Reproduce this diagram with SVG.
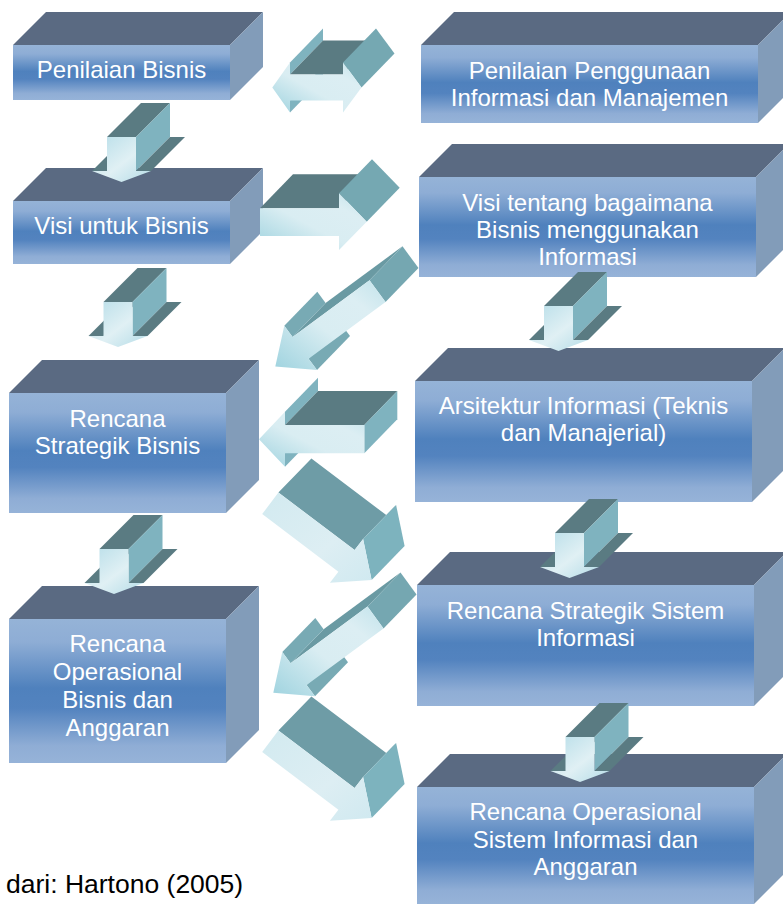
<svg xmlns="http://www.w3.org/2000/svg" width="783" height="904" viewBox="0 0 783 904">
<defs>
<linearGradient id="gFront" x1="0" y1="0" x2="0" y2="1">
<stop offset="0" stop-color="#95b3d7"/>
<stop offset="0.16" stop-color="#8eadd5"/>
<stop offset="0.48" stop-color="#4f81bd"/>
<stop offset="0.62" stop-color="#5383bf"/>
<stop offset="0.88" stop-color="#8fadd5"/>
<stop offset="1" stop-color="#96b3d8"/>
</linearGradient>
<linearGradient id="gDown" x1="0" y1="0" x2="1" y2="1">
<stop offset="0" stop-color="#b6dde8"/>
<stop offset="0.55" stop-color="#e0f0f4"/>
<stop offset="1" stop-color="#b4dce7"/>
</linearGradient>
<linearGradient id="gArr" x1="0" y1="1" x2="1" y2="0">
<stop offset="0" stop-color="#9fd3df"/>
<stop offset="0.45" stop-color="#d9edf2"/>
<stop offset="0.75" stop-color="#dceef3"/>
<stop offset="1" stop-color="#c2e3eb"/>
</linearGradient>
<linearGradient id="gArrL" x1="0" y1="0" x2="1" y2="1">
<stop offset="0" stop-color="#d2eaf0"/>
<stop offset="0.6" stop-color="#ddeef3"/>
<stop offset="1" stop-color="#d0e9f0"/>
</linearGradient>
<g id="dArrow">
<polygon class="adark" points="-15,34 0,34 34,0 19,0"/>
<polygon class="adark" points="0,0 29,0 63,-34 34,-34"/>
<polygon class="alight" points="29,0 63,-34 63,0 29,34"/>
<polygon class="adark" points="29,34 44,34 78,0 63,0"/>
<polygon fill="url(#gDown)" points="0,0 29,0 29,34 44,34 14.5,45 -15,34 0,34"/>
</g>
<g id="arrDR">
<polygon fill="#6e9ca6" points="278.4,492.5 354.6,550.1 363.1,539 396.1,505 387.6,516.1 311.4,458.5"/>
<polygon fill="#7db3be" points="363.1,539 371.6,579.9 404.6,545.9 396.1,505"/>
<polygon fill="url(#gArrL)" points="278.4,492.5 354.6,550.1 363.1,539 371.6,579.9 329.9,582.8 338.4,571.7 262.2,514.1"/>
</g>
<g id="arrDL">
<polygon fill="#78aab4" points="308.6,358.7 317,370 350,336 341.6,324.7"/>
<polygon fill="#6a9aa3" points="292.6,337 369.5,280.3 402.5,246.3 325.6,303"/>
<polygon fill="#78aab4" points="284.3,325.7 292.6,337 325.6,303 317.3,291.7"/>
<polygon fill="#75a7b1" points="369.5,280.3 385.5,302.1 418.5,268.1 402.5,246.3"/>
<polygon fill="url(#gArr)" points="369.5,280.3 292.6,337 284.3,325.7 275.3,366.5 317,370 308.6,358.7 385.5,302.1"/>
</g>
</defs>
<style>
.top{fill:#5a6a82}
.side{fill:#829cb9}
.front{fill:url(#gFront)}
.lbl{font-family:"Liberation Sans",Arial,sans-serif;font-size:24px;fill:#ffffff;text-anchor:middle}
.adark{fill:#5a7b82}
.amid{fill:#75a8b2}
.alight{fill:#7fb3bf}
</style>
<rect width="783" height="904" fill="#ffffff"/>

<g id="n1">
<polygon class="top" points="13,45 230,45 263,12 46,12"/>
<polygon class="side" points="230,45 263,12 263,67 230,100"/>
<rect class="front" x="13" y="45" width="217" height="55"/>
<text class="lbl" x="121.5" y="78">Penilaian Bisnis</text>
</g>
<g id="n2">
<polygon class="top" points="421,45 758,45 791,12 454,12"/>
<polygon class="side" points="758,45 791,12 791,90 758,123"/>
<rect class="front" x="421" y="45" width="337" height="78"/>
<text class="lbl" x="589.5" y="79">Penilaian Penggunaan</text>
<text class="lbl" x="589.5" y="106">Informasi dan Manajemen</text>
</g>
<g id="n3">
<polygon class="top" points="13,201 230,201 263,168 46,168"/>
<polygon class="side" points="230,201 263,168 263,231 230,264"/>
<rect class="front" x="13" y="201" width="217" height="63"/>
<text class="lbl" x="121.5" y="234">Visi untuk Bisnis</text>
</g>
<g id="n4">
<polygon class="top" points="419,177 756,177 789,144 452,144"/>
<polygon class="side" points="756,177 789,144 789,244 756,277"/>
<rect class="front" x="419" y="177" width="337" height="100"/>
<text class="lbl" x="587.5" y="211">Visi tentang bagaimana</text>
<text class="lbl" x="587.5" y="238">Bisnis menggunakan</text>
<text class="lbl" x="587.5" y="265">Informasi</text>
</g>
<g id="n5">
<polygon class="top" points="9,393 226,393 259,360 42,360"/>
<polygon class="side" points="226,393 259,360 259,480 226,513"/>
<rect class="front" x="9" y="393" width="217" height="120"/>
<text class="lbl" x="117.5" y="427">Rencana</text>
<text class="lbl" x="117.5" y="454">Strategik Bisnis</text>
</g>
<g id="n6">
<polygon class="top" points="415,381 752,381 785,348 448,348"/>
<polygon class="side" points="752,381 785,348 785,469 752,502"/>
<rect class="front" x="415" y="381" width="337" height="121"/>
<text class="lbl" x="583.5" y="414">Arsitektur Informasi (Teknis</text>
<text class="lbl" x="583.5" y="441">dan Manajerial)</text>
</g>
<g id="n7">
<polygon class="top" points="9,619 226,619 259,586 42,586"/>
<polygon class="side" points="226,619 259,586 259,730 226,763"/>
<rect class="front" x="9" y="619" width="217" height="144"/>
<text class="lbl" x="117.5" y="652">Rencana</text>
<text class="lbl" x="117.5" y="680">Operasional</text>
<text class="lbl" x="117.5" y="708">Bisnis dan</text>
<text class="lbl" x="117.5" y="736">Anggaran</text>
</g>
<g id="n8">
<polygon class="top" points="417,585 754,585 787,552 450,552"/>
<polygon class="side" points="754,585 787,552 787,673 754,706"/>
<rect class="front" x="417" y="585" width="337" height="121"/>
<text class="lbl" x="585.5" y="619">Rencana Strategik Sistem</text>
<text class="lbl" x="585.5" y="646">Informasi</text>
</g>
<g id="n9">
<polygon class="top" points="417,787 754,787 787,754 450,754"/>
<polygon class="side" points="754,787 787,754 787,871 754,904"/>
<rect class="front" x="417" y="787" width="337" height="117"/>
<text class="lbl" x="585.5" y="820">Rencana Operasional</text>
<text class="lbl" x="585.5" y="848">Sistem Informasi dan</text>
<text class="lbl" x="585.5" y="875">Anggaran</text>
</g>

<g id="connectors">
<!-- double arrow n1 <-> n2 -->
<g id="c-n1-n2">
<polygon class="alight" points="290,62.5 323,28.5 323,40.5 290,74.5"/>
<polygon class="alight" points="290,100.5 290,112.5 323,78.5 323,66.5"/>
<polygon class="adark" points="290,74.5 343,74.5 376,40.5 323,40.5"/>
<polygon class="amid" points="343,62.5 376,28.5 394.5,53.5 361.5,87.5"/>
<polygon fill="url(#gArr)" points="272.3,87.5 290,62.5 290,74.5 343,74.5 343,62.5 361.5,87.5 343,112.5 343,100.5 290,100.5 290,112.5"/>
</g>
<!-- right arrow n3 -> n4 -->
<g id="c-n3-n4">
<polygon class="adark" points="260,208.3 339,208.3 372,174.3 293,174.3"/>
<polygon class="amid" points="339,193.3 372,159.3 399.7,187.7 366.7,221.7"/>
<polygon fill="url(#gArr)" points="260,208.3 339,208.3 339,193.3 366.7,221.7 339,250 339,236 260,236"/>
</g>
<!-- left arrow n6 -> n5 -->
<g id="c-n6-n5">
<polygon class="alight" points="285,411.7 318,377.7 318,391 285,425"/>
<polygon class="alight" points="285,453.3 285,466.7 318,432.7 318,419.3"/>
<polygon class="adark" points="285,425 364.3,425 397.3,391 318,391"/>
<polygon class="alight" points="364.3,425 397.3,391 397.3,419.3 364.3,453.3"/>
<polygon fill="url(#gArr)" points="259,439.3 285,411.7 285,425 364.3,425 364.3,453.3 285,453.3 285,466.7"/>
</g>
<use id="c-n4-n5" href="#arrDL"/>
<use id="c-n8-n7" href="#arrDL" transform="translate(-2,326.3)"/>
<use id="c-n5-n8" href="#arrDR"/>
<use id="c-n7-n9" href="#arrDR" transform="translate(0,238)"/>
<use id="c-n1-n3" href="#dArrow" transform="translate(107,137)"/>
<use id="c-n3-n5" href="#dArrow" transform="translate(103.5,302)"/>
<use id="c-n4-n6" href="#dArrow" transform="translate(544,306)"/>
<use id="c-n5-n7" href="#dArrow" transform="translate(99.5,549)"/>
<use id="c-n6-n8" href="#dArrow" transform="translate(555,533)"/>
<use id="c-n8-n9" href="#dArrow" transform="translate(565.5,737)"/>
</g>

<text x="6" y="893" font-family="'Liberation Sans', Arial, sans-serif" font-size="26.5" fill="#000000">dari: Hartono (2005)</text>
</svg>
